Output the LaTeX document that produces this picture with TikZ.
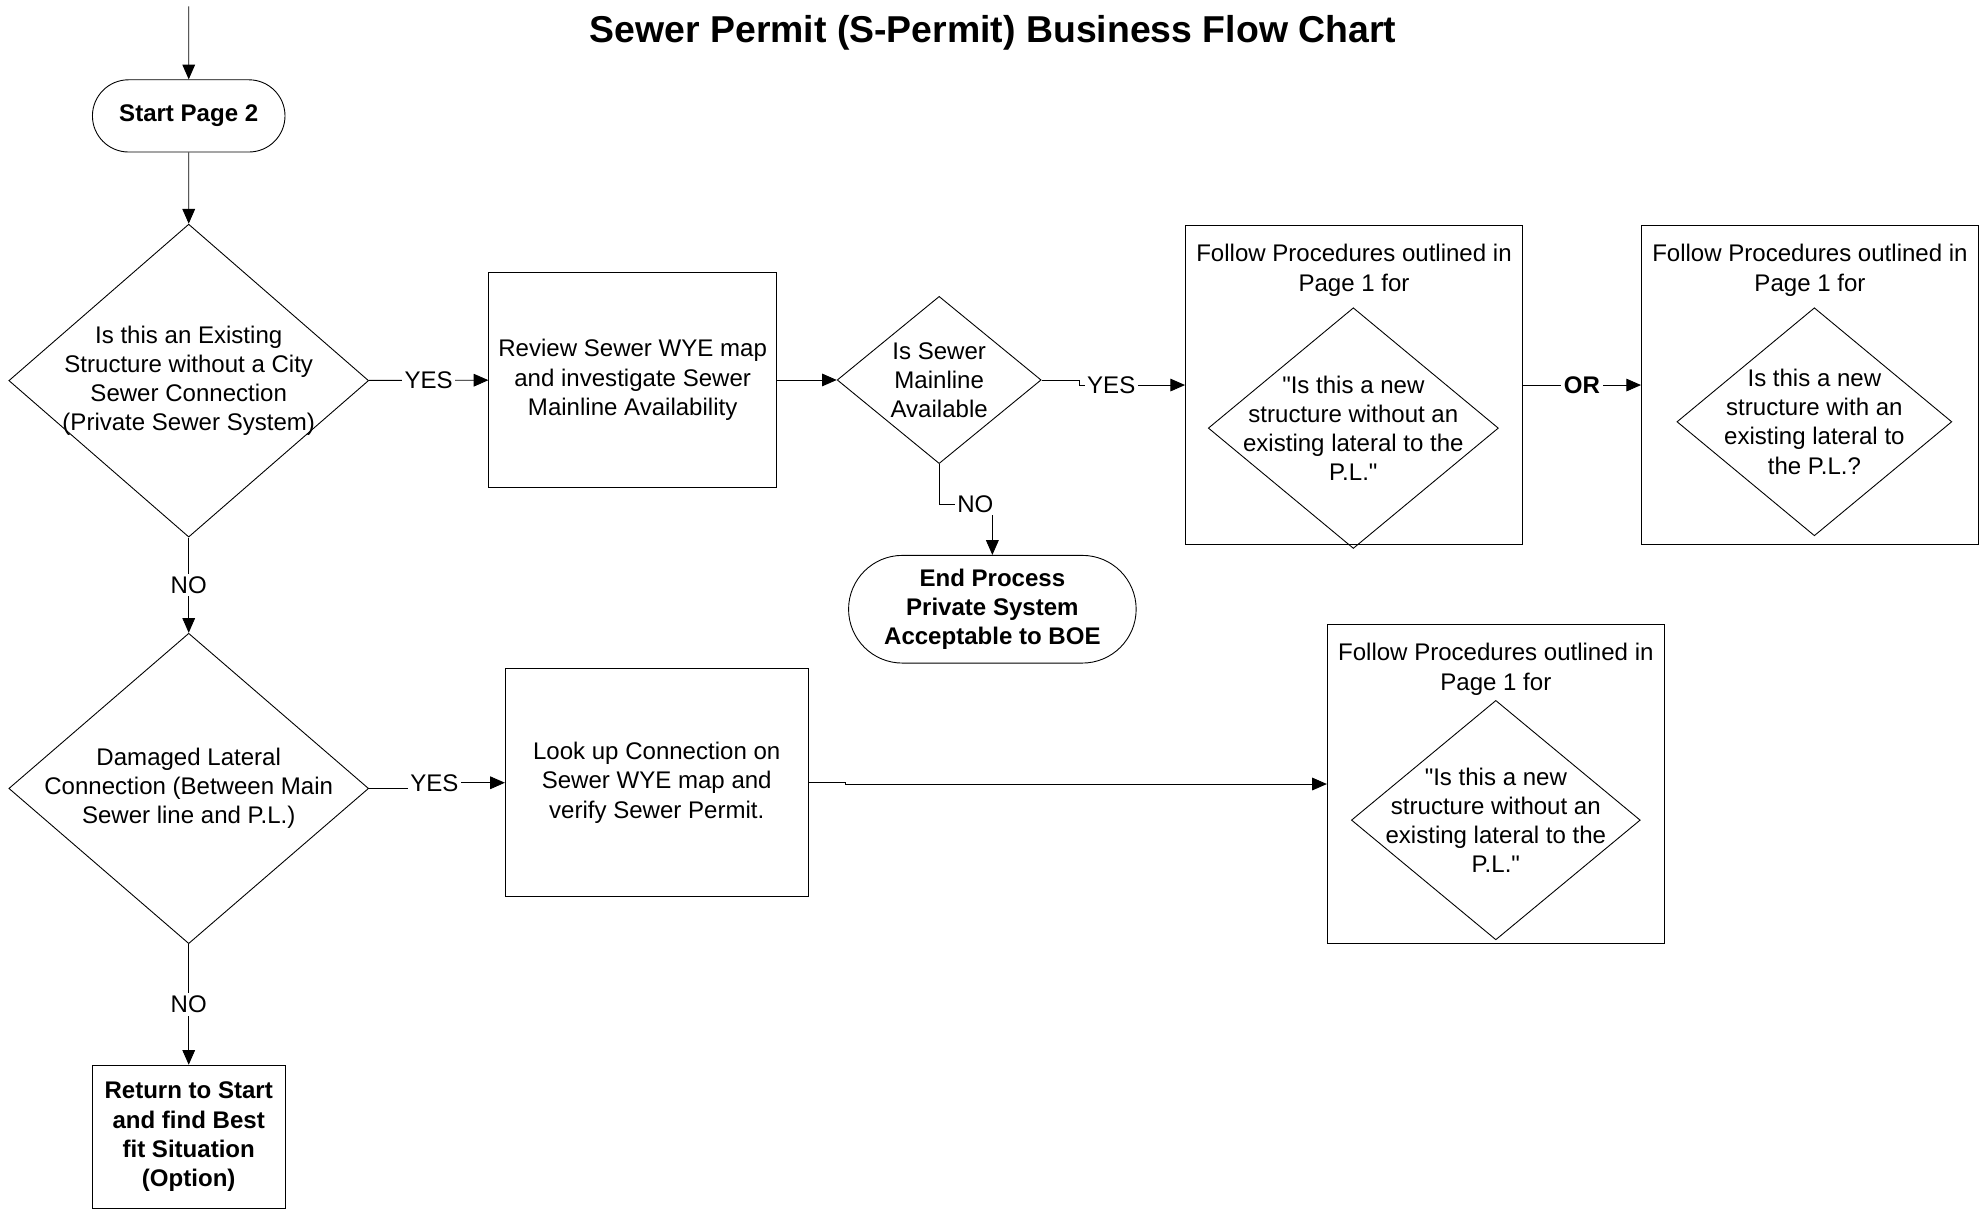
\documentclass[tikz,border=0pt]{standalone}
\usepackage{fontspec}
\setmainfont{Liberation Sans}
\usetikzlibrary{arrows.meta,calc,shapes.geometric,shapes.misc}

\begin{document}
\begin{tikzpicture}[x=0.025cm,y=-0.025cm,line width=0.5pt,
    every node/.style={font=\fontsize{13.5}{16.4}\selectfont},
    flow/.style={-{Triangle[length=2.9mm,width=2.5mm]}},
    terminal/.style={draw,rounded rectangle,inner sep=0pt,align=center,
      font=\fontsize{13.5}{16.4}\selectfont\bfseries},
    procbox/.style={draw,rectangle,inner sep=0pt,align=center},
    decision/.style={draw,diamond,inner sep=0pt},
    qtext/.style={align=center,inner sep=0pt},
    lbl/.style={fill=white,inner sep=1.5pt}]
  \useasboundingbox (0,0) rectangle (1568,955);

  \node[font=\fontsize{21}{25}\selectfont\bfseries] (title) at (784,26)
    {Sewer Permit (S-Permit) Business Flow Chart};

  % upper row
  \coordinate (entry) at (149,5);
  \node[terminal,minimum width=3.8cm,minimum height=1.425cm] (start) at (149,91.5) {Start Page 2};
  \node[decision,minimum width=7.1cm,minimum height=6.175cm] (exist) at (149,300.5) {};
  \node[qtext] (existtxt) at (exist) {Is this an Existing\\Structure without a City\\Sewer Connection\\(Private Sewer System)};
  \node[procbox,minimum width=5.675cm,minimum height=4.25cm] (review) at (499.5,300)
    {Review Sewer WYE map\\and investigate Sewer\\Mainline Availability};
  \node[decision,minimum width=4.025cm,minimum height=3.3cm] (avail) at (741.5,300) {};
  \node[qtext] (availtxt) at (avail) {Is Sewer\\Mainline\\Available};
  \node[terminal,minimum width=5.675cm,minimum height=2.125cm] (endp) at (783.5,481)
    {End Process\\Private System\\Acceptable to BOE};

  \node[procbox,minimum width=6.65cm,minimum height=6.3cm] (fpa) at (1069,304) {};
  \node[qtext,anchor=north] (fpahead) at ($(fpa.north)+(0,15)$) {Follow Procedures outlined in\\Page 1 for};
  \node[decision,minimum width=5.725cm,minimum height=4.75cm] (fpaq) at (1068.5,338) {};
  \node[qtext] (fpaqtxt) at (fpaq) {\textquotedbl Is this a new\\structure without an\\existing lateral to the\\P.L.\textquotedbl};

  \node[procbox,minimum width=6.65cm,minimum height=6.3cm] (fpb) at (1429,304) {};
  \node[qtext,anchor=north] (fpbhead) at ($(fpb.north)+(0,15)$) {Follow Procedures outlined in\\Page 1 for};
  \node[decision,minimum width=5.425cm,minimum height=4.5cm] (fpbq) at (1432.5,333) {};
  \node[qtext] (fpbqtxt) at (fpbq) {Is this a new\\structure with an\\existing lateral to\\the P.L.?};

  % lower row
  \node[decision,minimum width=7.1cm,minimum height=6.125cm] (damaged) at (149,622.5) {};
  \node[qtext] (damagedtxt) at (damaged) {Damaged Lateral\\Connection (Between Main\\Sewer line and P.L.)};
  \node[procbox,minimum width=5.975cm,minimum height=4.5cm] (lookup) at (518.5,618)
    {Look up Connection on\\Sewer WYE map and\\verify Sewer Permit.};

  \node[procbox,minimum width=6.65cm,minimum height=6.3cm] (fpc) at (1181,619) {};
  \node[qtext,anchor=north] (fpchead) at ($(fpc.north)+(0,15)$) {Follow Procedures outlined in\\Page 1 for};
  \node[decision,minimum width=5.7cm,minimum height=4.725cm] (fpcq) at (1181,647.5) {};
  \node[qtext] (fpcqtxt) at (fpcq) {\textquotedbl Is this a new\\structure without an\\existing lateral to the\\P.L.\textquotedbl};

  \node[procbox,minimum width=3.8cm,minimum height=2.825cm,
    font=\fontsize{13.5}{16.4}\selectfont\bfseries] (ret) at (149,897.5)
    {Return to Start\\and find Best\\fit Situation\\(Option)};

  \path[flow]
    (entry) edge (start)
    (start) edge (exist)
    (exist) edge node[lbl] {YES} (review)
    (review) edge (avail)
    (fpa) edge node[lbl,font=\fontsize{13.5}{16.4}\selectfont\bfseries] {OR} (fpb)
    (exist) edge node[lbl] {NO} (damaged)
    (damaged) edge node[lbl] {NO} (ret);

  \draw[flow] (avail.east) -- ++(30,0) |- node[lbl,pos=0.65] {YES} (fpa.west);
  \draw[flow] (avail.south) |- node[lbl,pos=0.84] {NO} ($(endp.north)+(0,-40)$) -- (endp.north);
  \draw[flow] (damaged.east) -- ++(32,0) |- node[lbl,pos=0.63] {YES} (lookup.west);
  \draw[flow] (lookup.east) -- ++(29,0) |- (fpc.west);
\end{tikzpicture}
\end{document}
